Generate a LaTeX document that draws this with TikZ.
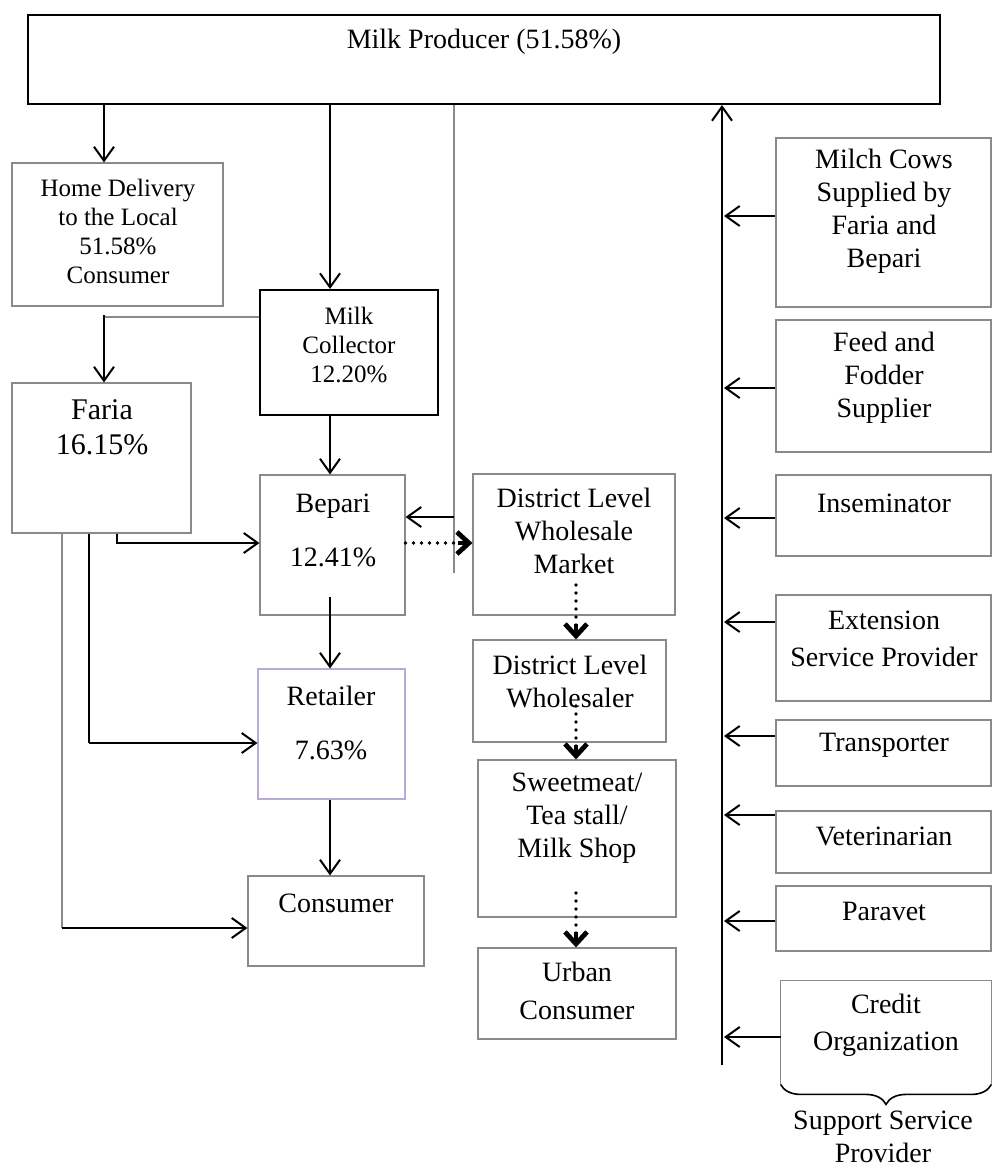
\documentclass[tikz,border=0pt]{standalone}
\usepackage{fontspec}
\setmainfont{Liberation Serif}
\usetikzlibrary{arrows.meta,fit,decorations.pathreplacing}
\definecolor{boxgray}{HTML}{8A8A8A}
\definecolor{retpurple}{HTML}{B9ABD6}
\tikzset{
  box/.style={draw=boxgray, line width=0.55pt, inner sep=0pt},
  boldbox/.style={draw=black, line width=1pt, inner sep=0pt},
  txt/.style={align=center, inner sep=0pt, font=\fontsize{14}{16.5}\selectfont},
  smalltxt/.style={align=center, inner sep=0pt, font=\fontsize{12.5}{14.5}\selectfont},
  flow/.style={line width=1pt, -{Straight Barb[length=7pt,width=10pt,line width=1pt]}},
  thinline/.style={line width=0.6pt},
  grayline/.style={draw=boxgray, line width=0.6pt},
  dotline/.style={line width=1.9pt, dash pattern=on 0pt off 4pt, line cap=round},
  dothead/.style={line width=2.4pt, -{Straight Barb[length=6pt,width=11pt]}},
}
\begin{document}
\begin{tikzpicture}[x=0.5pt,y=-0.5pt]
\useasboundingbox (0,0) rectangle (992,1167);

% ---- boxes ----
\node[boldbox, fit={(28,15) (940,104)}] (top) {};
\node[box, fit={(12,163) (223,306)}] (hd) {};
\node[boldbox, fit={(260,290) (438,415)}] (mc) {};
\node[box, fit={(12,383) (191,533)}] (faria) {};
\node[box, fit={(260,475) (405,615)}] (bep) {};
\node[box, draw=retpurple, fit={(258,669) (405,799)}] (ret) {};
\node[box, fit={(248,876) (424,966)}] (cons) {};
\node[box, fit={(473,474) (675,615)}] (dlwm) {};
\node[box, fit={(473,640) (666,742)}] (dlw) {};
\node[box, fit={(478,760) (676,917)}] (sw) {};
\node[box, fit={(478,948) (676,1039)}] (uc) {};
\node[box, fit={(776,138) (991,307)}] (milch) {};
\node[box, fit={(776,320) (991,452)}] (feed) {};
\node[box, fit={(776,475) (991,556)}] (insem) {};
\node[box, fit={(776,595) (991,701)}] (ext) {};
\node[box, fit={(776,720) (991,786)}] (trans) {};
\node[box, fit={(776,811) (991,873)}] (vet) {};
\node[box, fit={(776,886) (991,951)}] (para) {};
\node[inner sep=0pt, fit={(781,981) (991,1084)}] (credit) {};
\draw[boxgray, line width=0.55pt] (credit.south west) -- (credit.north west) -- (credit.north east) -- (credit.south east);
\draw[line width=0.8pt, decorate, decoration={brace, mirror, amplitude=10pt}] (credit.south west) -- (credit.south east);

% ---- texts ----
\node[txt] (top-t) at (484,42) {Milk Producer (51.58\%)};
\node[smalltxt] (hd-t) at (118,231) {Home Delivery\\to the Local\\51.58\%\\Consumer};
\node[smalltxt] (mc-t) at (349,345) {Milk\\Collector\\12.20\%};
\node[txt, font=\fontsize{15}{17.5}\selectfont] (faria-t) at (102,427) {Faria\\16.15\%};
\node[txt] (bep-t) at (333,530) {Bepari\\[10.5pt]12.41\%};
\node[txt] (ret-t) at (331,723) {Retailer\\[10.5pt]7.63\%};
\node[txt] (cons-t) at (336,903) {Consumer};
\node[txt] (dlwm-t) at (574,531) {District Level\\Wholesale\\Market};
\node[txt] (dlw-t) at (570,681) {District Level\\Wholesaler};
\node[txt] (sw-t) at (577,818) {Sweetmeat/\\Tea stall/\\Milk Shop};
\node[txt] (uc-t) at (577,991) {Urban\\[2.5pt]Consumer};
\node[txt] (milch-t) at (884,211) {Milch Cows\\Supplied by\\Faria and\\Bepari};
\node[txt] (feed-t) at (884,378) {Feed and\\Fodder\\Supplier};
\node[txt] (insem-t) at (884,503) {Inseminator};
\node[txt] (ext-t) at (884,639) {Extension\\[2pt]Service Provider};
\node[txt] (trans-t) at (884,745) {Transporter};
\node[txt] (vet-t) at (884,836) {Veterinarian};
\node[txt] (para-t) at (884,911) {Paravet};
\node[txt] (credit-t) at (886,1025) {Credit\\[2pt]Organization};
\node[txt] (support-t) at (883,1137) {Support Service\\Provider};

% ---- left connectors ----
\draw[flow] (top.south -| 104,0) -- (hd.north -| 104,0);
\draw[flow] (top.south -| 330,0) -- (mc.north -| 330,0);
\draw[grayline] (mc.west |- 0,317) -- (104,317);
\draw[flow] (104,315) -- (faria.north -| 104,0);
\draw[flow] (mc.south -| 330,0) -- (bep.north -| 330,0);
\draw[flow] (faria.south -| 117,0) -- (117,543) -- (bep.west |- 0,543);
\draw[thinline] (faria.south -| 89,0) -- (89,743);
\draw[flow] (89,743) -- (ret.west |- 0,743);
\draw[grayline] (faria.south -| 62,0) -- (62,928);
\draw[flow] (62,928) -- (cons.west |- 0,928);
\draw[flow] (330,597) -- (ret.north -| 330,0);
\draw[flow] (ret.south -| 330,0) -- (cons.north -| 330,0);

% ---- middle connectors ----
\draw[grayline] (top.south -| 454,0) -- (454,573);
\draw[flow] (454,517) -- (bep.east |- 0,517);
\draw[dotline] (bep.east |- 0,543) -- (460,543);
\draw[dothead] (458,543) -- (dlwm.west |- 0,543);
\draw[dotline] (576,585) -- (576,626);
\draw[dothead] (576,624) -- (dlw.north -| 576,0);
\draw[dotline] (576,706) -- (576,747);
\draw[dothead] (576,745) -- (sw.north -| 576,0);
\draw[dotline] (576,893) -- (576,934);
\draw[dothead] (576,932) -- (uc.north -| 576,0);

% ---- right connectors ----
\coordinate (rb) at (722,1065);
\draw[line width=1.2pt, -{Straight Barb[length=7pt,width=10pt,line width=1pt]}] (rb) -- (top.south -| rb);
\foreach \n/\y in {milch/216, feed/388, insem/518, ext/622, trans/736, vet/815, para/921, credit/1037}
  \draw[flow] (\n.west |- 0,\y) -- (724,\y);
\end{tikzpicture}
\end{document}
